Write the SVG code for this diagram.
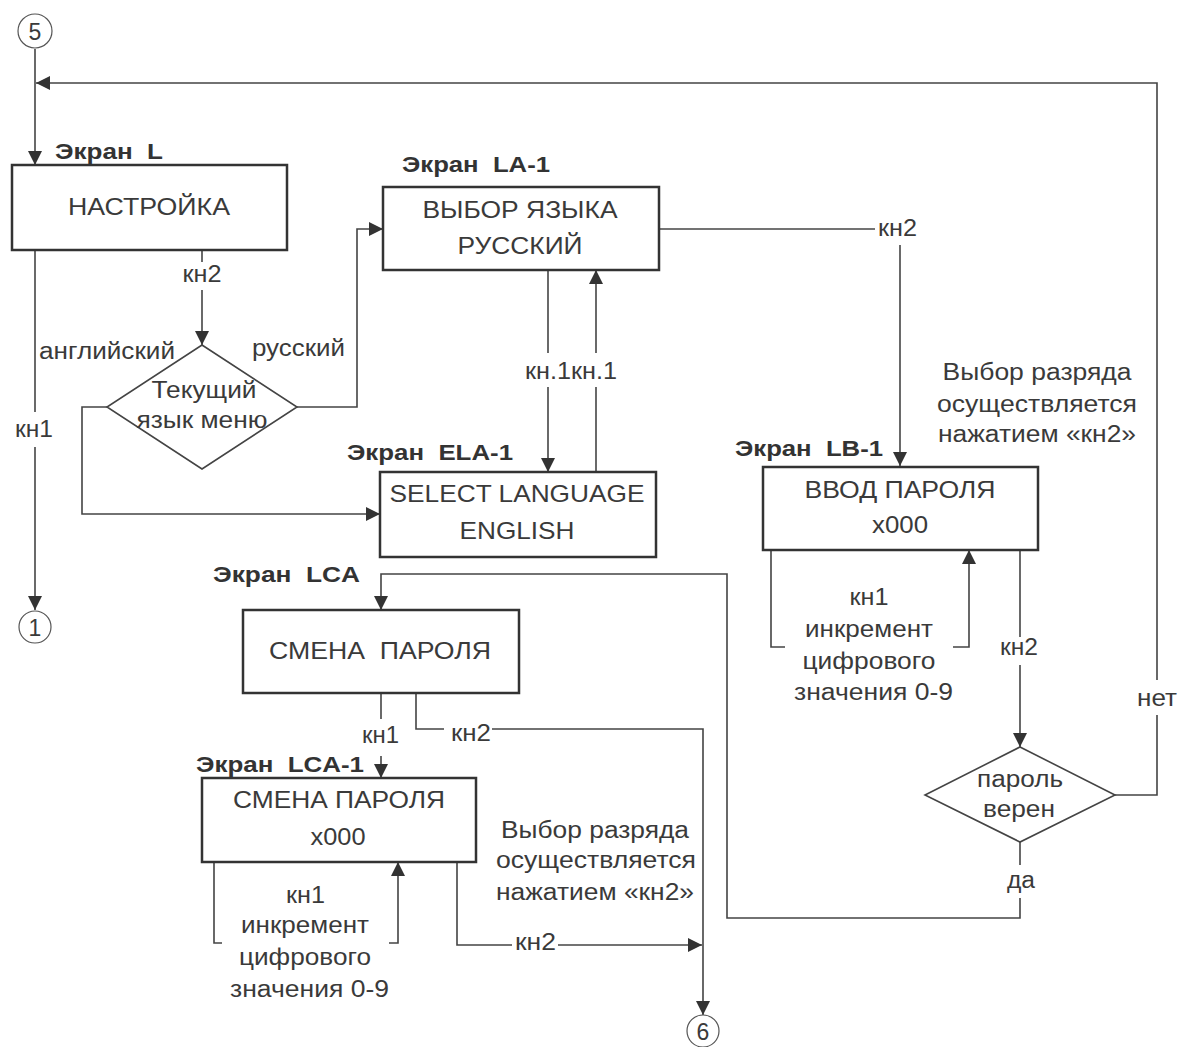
<svg xmlns="http://www.w3.org/2000/svg" width="1180" height="1047" viewBox="0 0 1180 1047">
<style>
text{font-family:"Liberation Sans",Arial,sans-serif;fill:#3a3a3a;white-space:pre}
.bt{font-size:24px}
.lb{font-size:23px}
.hd{font-size:21.5px;font-weight:bold;fill:#333}
.c{text-anchor:middle}
.box{fill:#fff;stroke:#333;stroke-width:2.5}
.dia{fill:#fff;stroke:#444;stroke-width:1.6}
.cir{fill:#fff;stroke:#555;stroke-width:1.2}
.ln{fill:none;stroke:#444;stroke-width:1.6}
.ar{marker-end:url(#arr)}
</style>
<defs>
<marker id="arr" markerUnits="userSpaceOnUse" markerWidth="14" markerHeight="16" viewBox="0 0 14 16" refX="14" refY="8" orient="auto">
<path d="M0,1 L14,8 L0,15 Z" fill="#333"/>
</marker>
</defs>
<g id="connectors">
<path class="ln ar" d="M35,49 V165"/>
<path class="ln" d="M1115,795 H1157 V715"/>
<path class="ln ar" d="M1157,680 V83 H36"/>
<path class="ln" d="M35,250 V412"/>
<path class="ln ar" d="M35,447 V610"/>
<path class="ln" d="M202,250 V262"/>
<path class="ln ar" d="M202,290 V345"/>
<path class="ln ar" d="M297,407 H357 V229 H383"/>
<path class="ln ar" d="M107,407 H82 V514 H380"/>
<path class="ln" d="M548,270 V353"/>
<path class="ln ar" d="M548,387 V472"/>
<path class="ln" d="M596,472 V387"/>
<path class="ln ar" d="M596,353 V270"/>
<path class="ln" d="M659,229 H875"/>
<path class="ln ar" d="M900,245 V466"/>
<path class="ln" d="M771,550 V647 H785"/>
<path class="ln ar" d="M953,647 H969 V550"/>
<path class="ln" d="M1020,550 V637"/>
<path class="ln ar" d="M1020,665 V747"/>
<path class="ln" d="M1020,842 V865"/>
<path class="ln ar" d="M1020,898 V918 H727 V574 H381 V610"/>
<path class="ln" d="M381,693 V719"/>
<path class="ln ar" d="M381,756 V778"/>
<path class="ln" d="M416,693 V729 H444"/>
<path class="ln ar" d="M492,729 H703 V1015"/>
<path class="ln" d="M214,862 V943 H222"/>
<path class="ln ar" d="M389,943 H398 V862"/>
<path class="ln" d="M457,862 V945 H512"/>
<path class="ln ar" d="M558,945 H702"/>
</g>
<g id="c5"><circle class="cir" cx="35" cy="31" r="17"/><text class="lb c" x="35" y="40">5</text></g>
<g id="c1"><circle class="cir" cx="35" cy="627" r="16"/><text class="lb c" x="35" y="636">1</text></g>
<g id="c6"><circle class="cir" cx="703" cy="1031" r="16"/><text class="lb c" x="703" y="1040">6</text></g>
<g id="L">
<rect class="box" x="12" y="165" width="275" height="85"/>
<text class="hd" x="55" y="159" textLength="108" lengthAdjust="spacingAndGlyphs">Экран  L</text>
<text class="bt c" x="149" y="215" textLength="162" lengthAdjust="spacingAndGlyphs">НАСТРОЙКА</text>
</g>
<g id="lang">
<polygon class="dia" points="202,345 297,407 202,469 107,407"/>
<text class="lb c" x="204" y="398" textLength="105" lengthAdjust="spacingAndGlyphs">Текущий</text>
<text class="lb c" x="202" y="428" textLength="131" lengthAdjust="spacingAndGlyphs">язык меню</text>
</g>
<g id="LA1">
<rect class="box" x="383" y="187" width="276" height="83"/>
<text class="hd" x="402" y="172" textLength="148" lengthAdjust="spacingAndGlyphs">Экран  LA-1</text>
<text class="bt c" x="520" y="218" textLength="195" lengthAdjust="spacingAndGlyphs">ВЫБОР ЯЗЫКА</text>
<text class="bt c" x="520" y="254" textLength="125" lengthAdjust="spacingAndGlyphs">РУССКИЙ</text>
</g>
<g id="ELA1">
<rect class="box" x="380" y="472" width="276" height="85"/>
<text class="hd" x="347" y="460" textLength="166" lengthAdjust="spacingAndGlyphs">Экран  ELA-1</text>
<text class="bt c" x="517" y="502" textLength="255" lengthAdjust="spacingAndGlyphs">SELECT LANGUAGE</text>
<text class="bt c" x="517" y="539" textLength="115" lengthAdjust="spacingAndGlyphs">ENGLISH</text>
</g>
<g id="LB1">
<rect class="box" x="763" y="467" width="275" height="83"/>
<text class="hd" x="735" y="456" textLength="148" lengthAdjust="spacingAndGlyphs">Экран  LB-1</text>
<text class="bt c" x="900" y="498" textLength="191" lengthAdjust="spacingAndGlyphs">ВВОД ПАРОЛЯ</text>
<text class="bt c" x="900" y="533" textLength="56" lengthAdjust="spacingAndGlyphs">x000</text>
</g>
<g id="pwd">
<polygon class="dia" points="1020,747 1115,795 1020,842 925,795"/>
<text class="lb c" x="1020" y="787" textLength="86" lengthAdjust="spacingAndGlyphs">пароль</text>
<text class="lb c" x="1019" y="817" textLength="72" lengthAdjust="spacingAndGlyphs">верен</text>
</g>
<g id="LCA">
<rect class="box" x="243" y="610" width="276" height="83"/>
<text class="hd" x="213" y="582" textLength="147" lengthAdjust="spacingAndGlyphs">Экран  LCA</text>
<text class="bt c" x="380" y="659" textLength="222" lengthAdjust="spacingAndGlyphs">СМЕНА  ПАРОЛЯ</text>
</g>
<g id="LCA1">
<rect class="box" x="202" y="778" width="274" height="84"/>
<text class="hd" x="196" y="772" textLength="168" lengthAdjust="spacingAndGlyphs">Экран  LCA-1</text>
<text class="bt c" x="339" y="808" textLength="212" lengthAdjust="spacingAndGlyphs">СМЕНА ПАРОЛЯ</text>
<text class="bt c" x="338" y="845" textLength="55" lengthAdjust="spacingAndGlyphs">x000</text>
</g>
<g id="labels">
<text class="lb c" x="202" y="282" textLength="39" lengthAdjust="spacingAndGlyphs">кн2</text>
<text class="lb" x="39" y="359" textLength="136" lengthAdjust="spacingAndGlyphs">английский</text>
<text class="lb" x="252" y="356" textLength="93" lengthAdjust="spacingAndGlyphs">русский</text>
<text class="lb" x="15" y="437" textLength="38" lengthAdjust="spacingAndGlyphs">кн1</text>
<text class="lb" x="525" y="379" textLength="92" lengthAdjust="spacingAndGlyphs">кн.1кн.1</text>
<text class="lb" x="878" y="236" textLength="39" lengthAdjust="spacingAndGlyphs">кн2</text>
<text class="lb c" x="1037" y="380" textLength="189" lengthAdjust="spacingAndGlyphs">Выбор разряда</text>
<text class="lb c" x="1037" y="412" textLength="200" lengthAdjust="spacingAndGlyphs">осуществляется</text>
<text class="lb c" x="1037" y="442" textLength="198" lengthAdjust="spacingAndGlyphs">нажатием «кн2»</text>
<text class="lb c" x="869" y="605" textLength="39" lengthAdjust="spacingAndGlyphs">кн1</text>
<text class="lb c" x="869" y="637" textLength="128" lengthAdjust="spacingAndGlyphs">инкремент</text>
<text class="lb c" x="869" y="669" textLength="133" lengthAdjust="spacingAndGlyphs">цифрового</text>
<text class="lb" x="794" y="700" textLength="159" lengthAdjust="spacingAndGlyphs">значения 0-9</text>
<text class="lb" x="1000" y="655" textLength="38" lengthAdjust="spacingAndGlyphs">кн2</text>
<text class="lb" x="1137" y="706" textLength="40" lengthAdjust="spacingAndGlyphs">нет</text>
<text class="lb" x="1007" y="888" textLength="28" lengthAdjust="spacingAndGlyphs">да</text>
<text class="lb" x="362" y="743" textLength="37" lengthAdjust="spacingAndGlyphs">кн1</text>
<text class="lb" x="451" y="741" textLength="40" lengthAdjust="spacingAndGlyphs">кн2</text>
<text class="lb" x="286" y="903" textLength="39" lengthAdjust="spacingAndGlyphs">кн1</text>
<text class="lb" x="241" y="933" textLength="128" lengthAdjust="spacingAndGlyphs">инкремент</text>
<text class="lb" x="239" y="965" textLength="132" lengthAdjust="spacingAndGlyphs">цифрового</text>
<text class="lb" x="230" y="997" textLength="159" lengthAdjust="spacingAndGlyphs">значения 0-9</text>
<text class="lb" x="515" y="950" textLength="41" lengthAdjust="spacingAndGlyphs">кн2</text>
<text class="lb" x="501" y="838" textLength="188" lengthAdjust="spacingAndGlyphs">Выбор разряда</text>
<text class="lb" x="496" y="868" textLength="200" lengthAdjust="spacingAndGlyphs">осуществляется</text>
<text class="lb" x="496" y="900" textLength="198" lengthAdjust="spacingAndGlyphs">нажатием «кн2»</text>
</g>
</svg>
